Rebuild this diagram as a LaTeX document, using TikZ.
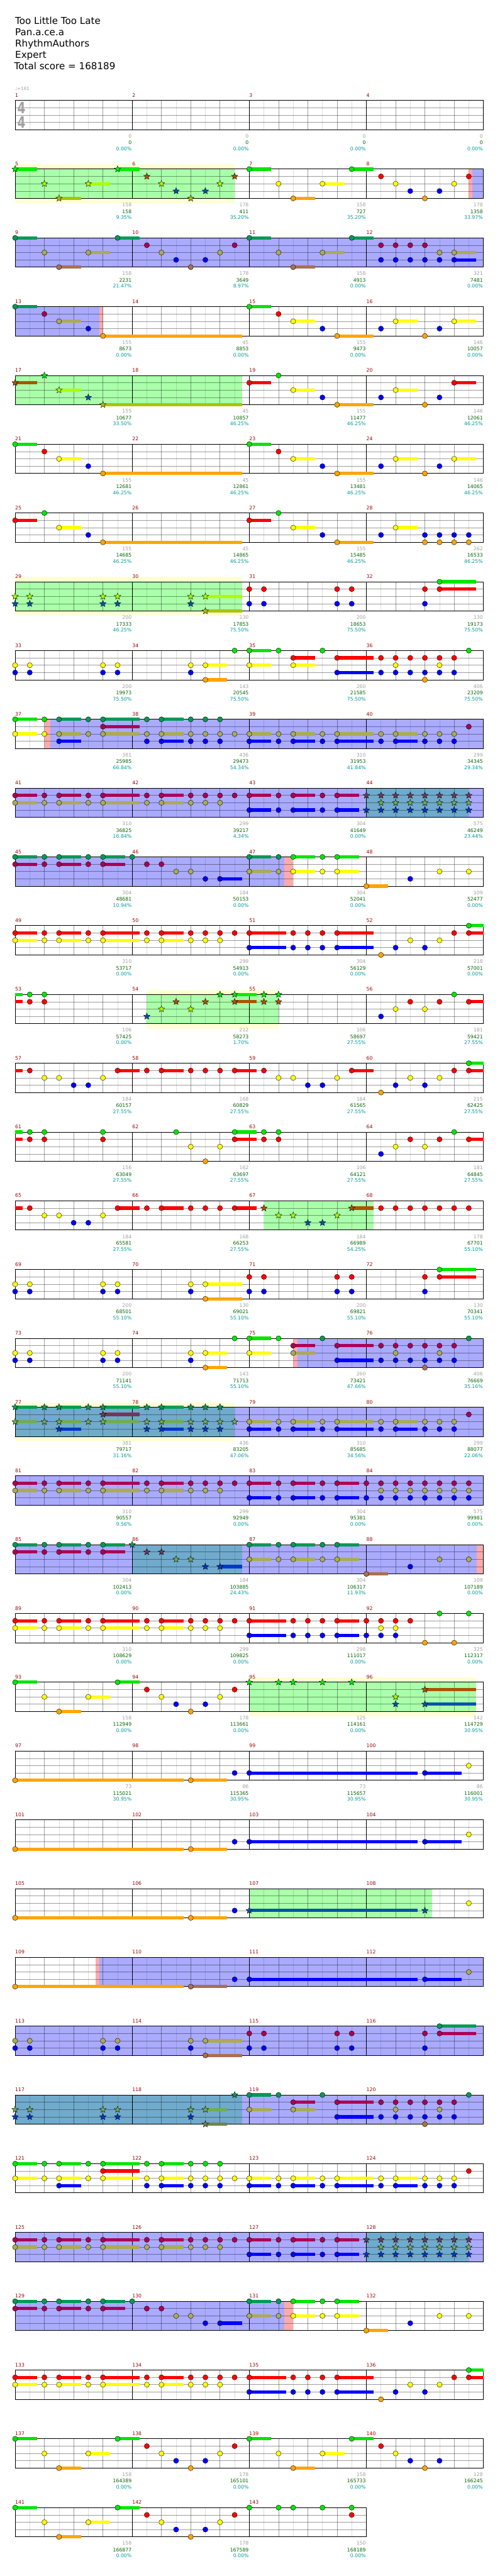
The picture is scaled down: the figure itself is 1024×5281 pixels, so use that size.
\documentclass[tikz,border=0pt]{standalone}
\usepackage{fontspec}
\setmainfont{DejaVu Sans}
\usetikzlibrary{shapes.geometric}

\definecolor{n0}{RGB}{0,230,0}
\definecolor{n1}{RGB}{255,0,0}
\definecolor{n2}{RGB}{255,255,0}
\definecolor{n3}{RGB}{0,0,255}
\definecolor{n4}{RGB}{255,165,0}
\colorlet{b0}{n0}
\colorlet{b1}{n1}
\colorlet{b2}{n2}
\colorlet{b3}{n3}
\colorlet{b4}{n4}
\colorlet{o0}{n0!67!blue}
\colorlet{o1}{n1!67!blue}
\colorlet{o2}{n2!67!blue}
\colorlet{o3}{n3!67!blue}
\colorlet{o4}{n4!67!blue}
\colorlet{s0}{n0!67!green}
\colorlet{s1}{n1!67!green}
\colorlet{s2}{n2!67!green}
\colorlet{s3}{n3!67!green}
\colorlet{s4}{n4!67!green}
\colorlet{t0}{s0!67!blue}
\colorlet{t1}{s1!67!blue}
\colorlet{t2}{s2!67!blue}
\colorlet{t3}{s3!67!blue}
\colorlet{t4}{s4!67!blue}
\definecolor{spfill}{RGB}{170,255,170}
\definecolor{bandfill}{RGB}{255,255,212}
\definecolor{odfill}{RGB}{170,170,255}
\definecolor{tealfill}{RGB}{112,170,204}
\definecolor{pinkfill}{RGB}{255,170,170}
\definecolor{barnum}{RGB}{153,0,0}
\definecolor{graynum}{RGB}{160,160,160}
\definecolor{greennum}{RGB}{0,100,0}
\definecolor{tealnum}{RGB}{0,153,153}

\newcommand\riffA{0/0/1.5, 2/2/0, 3/4/4.5, 5/2/6.5, 7/0/8.5, 9/1/0, 10/2/0, 11/3/0, 12/4/0, 13/3/0, 14/2/0, 15/1/0}
\newcommand\riffB{0/0/1.5, 2/1/0, 3/2/4.5, 5/3/0, 6/4/15.5}
\newcommand\riffC{0/0/1.5, 2/1/0, 3/2/4.5, 5/3/0, 6/4/8.5, 9/3/0, 10/2/11.5, 12/4/0, 13/3/0, 14/2/15.5}
\newcommand\riffD{0/2/0, 0/3/0, 1/2/0, 1/3/0, 6/2/0, 6/3/0, 7/2/0, 7/3/0, 12/2/0, 12/3/0}
\newcommand\riffE{16/1/0, 16/3/0, 17/1/0, 17/3/0, 22/1/0, 22/3/0, 23/1/0, 23/3/0, 28/1/0, 28/3/0, 29/0/31.5, 29/1/31.5}
\newcommand\riffF{16/2/17.5, 16/3/17.5, 18/2/0, 18/3/0, 19/2/20.5, 19/3/20.5, 21/2/0, 21/3/0, 22/2/24.5, 22/3/24.5, 25/2/0, 25/3/0, 26/2/27.5, 26/3/27.5, 28/2/0, 28/3/0, 29/2/0, 29/3/0, 30/2/0, 30/3/0, 31/1/0}
\newcommand\riffG{3/0/4.5, 3/2/4.5, 3/3/4.5, 5/0/0, 5/2/0, 6/0/8.5, 6/1/8.5, 6/2/8.5, 9/0/0, 9/2/0, 9/3/0, 10/0/11.5, 10/2/11.5, 10/3/11.5, 12/0/0, 12/2/0, 12/3/0, 13/0/0, 13/2/0, 13/3/0, 14/0/0, 14/2/0, 14/3/0, 15/2/0}
\newcommand\riffH{0/1/1.5, 0/2/1.5, 2/1/0, 2/2/0, 3/1/4.5, 3/2/4.5, 5/1/0, 5/2/0, 6/1/8.5, 6/2/8.5, 9/1/0, 9/2/0, 10/1/11.5, 10/2/11.5, 12/1/0, 12/2/0, 13/1/0, 13/2/0, 14/1/0, 14/2/0, 15/1/0}
\newcommand\riffI{16/1/17.5, 16/3/17.5, 18/1/0, 18/3/0, 19/1/20.5, 19/3/20.5, 21/1/0, 21/3/0, 22/1/23.5, 22/3/23.5}
\newcommand\riffK{1/1/0, 2/2/0, 3/2/0, 4/3/0, 5/3/0, 6/2/0, 7/1/8.5}
\newcommand\riffL{21/0/0, 22/1/24.5, 22/3/24.5, 25/1/0, 25/3/0, 26/1/0, 26/2/0, 26/3/0, 27/1/0, 27/3/0, 28/1/0, 28/3/0, 28/4/0, 29/1/0, 29/2/0, 29/3/0, 30/1/0, 30/3/0, 31/0/0}
\newcommand\riffM{24/1/0, 24/3/0, 25/1/0, 25/2/0, 25/3/0, 26/1/0, 26/2/0, 26/3/0, 27/1/0, 27/2/0, 27/3/0, 28/1/0, 28/2/0, 28/3/0, 29/1/0, 29/2/0, 29/3/0, 30/1/0, 30/2/0, 30/3/0, 31/1/0, 31/2/0, 31/3/0}
\newcommand\riffN{25/3/0, 26/2/0, 27/1/0, 28/2/0, 29/1/0, 30/0/0, 31/1/32}
\newcommand\riffO{0/0/1.5, 0/1/1.5, 2/0/0, 2/1/0, 3/0/4.5, 3/1/4.5, 5/0/0, 5/1/0, 6/0/7.5, 6/1/7.5}
\newcommand\riffP{8/0/0, 9/1/0, 10/1/0, 11/2/0, 12/2/0, 13/3/0, 14/3/15.5}
\newcommand\riffQ{19/0/20.5, 19/2/20.5, 21/0/0, 21/2/0, 22/0/23.5, 22/2/23.5, 24/4/25.5, 27/3/0, 29/2/0, 31/2/0}
\newcommand\riffR{16/1/18.5, 16/3/18.5, 19/1/0, 19/3/0, 20/1/0, 20/3/0, 21/1/0, 21/3/0, 22/1/24.5, 22/3/24.5, 25/4/0, 26/3/0, 27/2/0, 28/3/0, 29/2/0, 30/1/0, 31/0/32, 31/1/32}
\newcommand\riffS{0/4/11.5, 12/4/14.5, 15/3/0}

\newcommand\drawnote[6]{%
  \pgfmathsetmacro\nx{31+30*(#2+#3)}%
  \pgfmathsetmacro\ny{205.7+141*#1+15*#4}%
  \ifdim #5pt>0pt
    \pgfmathsetmacro\sx{31+30*(#2+#5)}%
    \draw[sustain, draw=#6#4] (\nx,\ny) -- (\sx,\ny);
  \fi
  \node[fill=#6#4, head #6] at (\nx,\ny) {};}
\newcommand\notes[4]{\edef\nlist{#4}\foreach \pos/\lane/\send in \nlist {\drawnote{#1}{#2}{\pos}{\lane}{\send}{#3}}}
\newcommand\zone[4][odzone]{\fill[#1] ({31+30*#3},{205.7+141*#2}) rectangle ({31+30*#4},{265.7+141*#2});}
\newcommand\band[3]{\fill[bandzone] ({31+30*#2},{195.7+141*#1}) rectangle ({31+30*#3},{275.7+141*#1});}
\newcommand\staff[2]{%
  \pgfmathsetmacro\ty{205.7+141*#1}%
  \pgfmathsetmacro\xr{31+30*#2}%
  \foreach \e in {1,3,...,31} {\ifnum\e<#2 \draw[eighthline] ({31+30*\e},\ty) -- ++(0,60);\fi}
  \foreach \e in {2,4,...,30} {\ifnum\e<#2 \draw[beatline] ({31+30*\e},\ty) -- ++(0,60);\fi}
  \foreach \k in {1,2,3} {\draw[beatline] (31,{\ty+15*\k}) -- (\xr,{\ty+15*\k});}
  \foreach \e in {8,16,24} {\ifnum\e<#2 \draw[barline] ({31+30*\e},\ty) -- ++(0,60);\fi}
  \draw[staffline] (31,\ty) rectangle (\xr,{\ty+60});}

\begin{document}
\begin{tikzpicture}[x=1pt, y=-1pt,
    sustain/.style={line width=6.7pt},
    note/.style={circle, draw=black, line width=0.5pt, minimum size=10.6pt, inner sep=0pt},
    starnote/.style={star, star points=5, star point ratio=2.3, draw=black, line width=0.5pt, minimum size=14pt, inner sep=0pt},
    head n/.style=note, head o/.style=note, head s/.style=starnote, head t/.style=starnote,
    head b/.style={fill=none, inner sep=0pt, minimum size=0pt},
    odzone/.style={fill=odfill}, spzone/.style={fill=spfill}, tealzone/.style={fill=tealfill},
    pinkzone/.style={fill=pinkfill}, bandzone/.style={fill=bandfill},
    eighthline/.style={draw=black, opacity=0.13, line width=0.8pt},
    beatline/.style={draw=black, opacity=0.38, line width=0.8pt},
    barline/.style={draw=black, line width=0.8pt},
    staffline/.style={draw=black, line width=1.2pt},
    title/.style={anchor=base west, inner sep=0pt, font=\fontsize{19.5}{23}\selectfont},
    numtxt/.style={anchor=base east, inner sep=0pt, font=\fontsize{10}{12}\selectfont},
    bartxt/.style={anchor=base west, inner sep=0pt, font=\fontsize{10}{12}\selectfont, text=barnum}
]
\fill[white] (0,0) rectangle (1024,5281);
\useasboundingbox (0,0) rectangle (1024,5281);

\node[title] (song) at (31,50) {Too Little Too Late};
\node[title] (artist) at (31,73) {Pan.a.ce.a};
\node[title] (charter) at (31,96) {RhythmAuthors};
\node[title] (level) at (31,119) {Expert};
\node[title] (total) at (29,142) {Total score = 168189};
\node[anchor=base west, inner sep=0pt, font=\fontsize{9}{10}\selectfont, text=graynum] (bpm) at (31,185) {♩=161};

\band{1}{0}{15} \zone[spzone]{1}{0}{15} \zone[pinkzone]{1}{31}{31.25} \zone{1}{31.25}{32}
\zone{2}{0}{32}
\zone{3}{0}{5.75} \zone[pinkzone]{3}{5.75}{6}
\zone[spzone]{4}{0}{15.5}
\band{7}{0}{15.5} \zone[spzone]{7}{0}{15.5}
\zone[pinkzone]{9}{2}{2.4} \zone{9}{2.4}{32}
\zone{10}{0}{32} \zone[tealzone]{10}{24}{31}
\zone{11}{0}{18.4} \zone[pinkzone]{11}{18.4}{19}
\band{13}{9}{18} \zone[spzone]{13}{9}{18}
\zone[spzone]{16}{17}{24.5}
\zone[pinkzone]{18}{19}{19.3} \zone{18}{19.3}{32}
\band{19}{0}{15} \zone{19}{0}{32} \zone[tealzone]{19}{0}{15}
\zone{20}{0}{32}
\zone{21}{0}{31.55} \zone[tealzone]{21}{8}{15.5} \zone[pinkzone]{21}{31.55}{32}
\band{23}{16}{31.5} \zone[spzone]{23}{16}{31.5}
\zone[spzone]{26}{16}{28.5}
\zone[pinkzone]{27}{5.5}{5.75} \zone{27}{5.75}{32}
\zone{28}{0}{32}
\zone{29}{0}{32} \zone[tealzone]{29}{0}{15.5}
\zone{31}{0}{32} \zone[tealzone]{31}{24}{31}
\zone{32}{0}{18.4} \zone[pinkzone]{32}{18.4}{19}

\foreach \rw in {0,...,34} {\staff{\rw}{32}}
\staff{35}{24}

\node[font=\fontsize{32}{32}\selectfont\bfseries, text=graynum, inner sep=0pt] (tsup) at (44,221) {\scalebox{0.75}[1]{4}};
\node[font=\fontsize{32}{32}\selectfont\bfseries, text=graynum, inner sep=0pt] (tsdown) at (44,251) {\scalebox{0.75}[1]{4}};

\foreach \ms in {1,...,143} {
  \pgfmathtruncatemacro\rw{(\ms-1)/4}
  \pgfmathsetmacro\mx{31+240*(\ms-1-4*\rw)}
  \node[bartxt] at (\mx,{198.7+141*\rw}) {\ms};
}

\foreach \ms/\gv/\sv/\pv in {1/0/0/0.00, 2/0/0/0.00, 3/0/0/0.00, 4/0/0/0.00,
    5/158/158/9.35, 6/178/411/35.20, 7/158/727/35.20, 8/178/1358/33.97,
    9/158/2231/21.47, 10/178/3649/8.97, 11/158/4913/0.00, 12/321/7481/0.00,
    13/155/8673/0.00, 14/45/8853/0.00, 15/155/9473/0.00, 16/146/10057/0.00,
    17/155/10677/33.50, 18/45/10857/46.25, 19/155/11477/46.25, 20/146/12061/46.25,
    21/155/12681/46.25, 22/45/12861/46.25, 23/155/13481/46.25, 24/146/14065/46.25,
    25/155/14685/46.25, 26/45/14865/46.25, 27/155/15485/46.25, 28/262/16533/46.25,
    29/200/17333/46.25, 30/130/17853/75.50, 31/200/18653/75.50, 32/130/19173/75.50,
    33/200/19973/75.50, 34/143/20545/75.50, 35/260/21585/75.50, 36/406/23209/75.50,
    37/381/25985/66.84, 38/436/29473/54.34, 39/310/31953/41.84, 40/299/34345/29.34,
    41/310/36825/16.84, 42/299/39217/4.34, 43/304/41649/0.00, 44/575/46249/23.44,
    45/304/48681/10.94, 46/184/50153/0.00, 47/304/52041/0.00, 48/109/52477/0.00,
    49/310/53717/0.00, 50/299/54913/0.00, 51/304/56129/0.00, 52/218/57001/0.00,
    53/106/57425/0.00, 54/212/58273/1.70, 55/106/58697/27.55, 56/181/59421/27.55,
    57/184/60157/27.55, 58/168/60829/27.55, 59/184/61565/27.55, 60/215/62425/27.55,
    61/156/63049/27.55, 62/162/63697/27.55, 63/106/64121/27.55, 64/181/64845/27.55,
    65/184/65581/27.55, 66/168/66253/27.55, 67/184/66989/54.25, 68/178/67701/55.10,
    69/200/68501/55.10, 70/130/69021/55.10, 71/200/69821/55.10, 72/130/70341/55.10,
    73/200/71141/55.10, 74/143/71713/55.10, 75/260/73421/47.66, 76/406/76669/35.16,
    77/381/79717/31.16, 78/436/83205/47.06, 79/310/85685/34.56, 80/299/88077/22.06,
    81/310/90557/9.56, 82/299/92949/0.00, 83/304/95381/0.00, 84/575/99981/0.00,
    85/304/102413/0.00, 86/184/103885/24.43, 87/304/106317/11.93, 88/109/107189/0.00,
    89/310/108629/0.00, 90/299/109825/0.00, 91/298/111017/0.00, 92/325/112317/0.00,
    93/158/112949/0.00, 94/178/113661/0.00, 95/125/114161/0.00, 96/142/114729/30.95,
    97/73/115021/30.95, 98/86/115365/30.95, 99/73/115657/30.95, 100/86/116001/30.95,
    137/158/164389/0.00, 138/178/165101/0.00, 139/158/165733/0.00, 140/128/166245/0.00,
    141/158/166877/0.00, 142/178/167589/0.00, 143/150/168189/0.00} {
  \pgfmathtruncatemacro\rw{(\ms-1)/4}
  \pgfmathsetmacro\mx{30+240*(\ms-4*\rw)}
  \pgfmathsetmacro\ty{205.7+141*\rw}
  \node[numtxt, text=graynum] at (\mx,{\ty+77}) {\gv};
  \node[numtxt, text=greennum] at (\mx,{\ty+90.4}) {\sv};
  \node[numtxt, text=tealnum] at (\mx,{\ty+102.7}) {\pv\%};
}

\notes{1}{0}{s}{\riffA}
\notes{1}{16}{n}{\riffA}
\notes{2}{0}{o}{\riffA, 16/0/17.5, 18/2/0, 19/4/20.5, 21/2/22.5, 23/0/24.5, 25/1/0, 26/1/0, 27/1/0, 28/1/0, 29/2/0, 30/2/31.5, 25/3/0, 26/3/0, 27/3/0, 28/3/0, 29/3/0, 30/3/31.5}
\notes{3}{0}{o}{0/0/1.5, 2/1/0, 3/2/4.5, 5/3/0}
\notes{3}{0}{n}{6/4/15.5}
\notes{3}{16}{n}{\riffC}
\notes{4}{0}{s}{0/1/1.5, 2/0/0, 3/2/4.5, 5/3/0, 6/4/15.5}
\notes{4}{16}{n}{0/1/1.5, 2/0/0, 3/2/4.5, 5/3/0, 6/4/8.5, 9/3/0, 10/2/11.5, 12/4/0, 13/3/0, 14/1/15.5}
\notes{5}{0}{n}{\riffB}
\notes{5}{16}{n}{\riffC}
\notes{6}{0}{n}{0/1/1.5, 2/0/0, 3/2/4.5, 5/3/0, 6/4/15.5}
\notes{6}{16}{n}{0/1/1.5, 2/0/0, 3/2/4.5, 5/3/0, 6/4/8.5, 9/3/0, 10/2/11.5, 12/3/0, 12/4/0, 13/3/0, 13/4/0, 14/3/0, 14/4/0, 15/3/0, 15/4/0}
\notes{7}{0}{s}{\riffD, 13/2/15.5, 13/4/15.5}
\notes{7}{0}{n}{\riffE}
\notes{8}{0}{n}{\riffD, 13/2/14.5, 13/4/14.5, 15/0/0, 16/0/17.5, 16/2/17.5, 18/0/0, 19/1/20.5, 19/2/20.5, \riffL}
\notes{9}{0}{n}{0/0/1.5, 0/2/1.5, 2/0/0, 2/2/0}
\notes{9}{0}{o}{\riffG, \riffF}
\notes{10}{0}{o}{\riffH, \riffI}
\notes{10}{0}{t}{\riffM}
\notes{11}{0}{o}{\riffO, \riffP, 16/0/17.5, 16/2/17.5, 18/0/0, 18/2/0}
\notes{11}{0}{n}{\riffQ}
\notes{12}{0}{n}{\riffH, \riffR}
\notes{13}{0}{b}{0/0/0.5, 0/1/0.5}
\notes{13}{0}{n}{1/0/0, 1/1/0, 2/0/0, 2/1/0, \riffN}
\notes{13}{0}{s}{9/3/0, 10/2/0, 11/1/0, 12/2/0, 13/1/0, 14/0/0, 15/0/16.5, 15/1/16.5, 17/0/0, 17/1/0, 18/0/0, 18/1/0}
\notes{14}{0}{b}{0/1/0.5}
\notes{14}{0}{n}{\riffK, 9/1/0, 10/1/11.5, 12/1/0, 13/1/0, 14/1/0, 15/1/16.5, 25/4/0, 26/3/0, 27/2/0, 28/3/0, 29/2/0, 30/1/0, 31/0/32, 31/1/32}
\notes{14}{16}{n}{\riffK}
\notes{15}{0}{b}{0/0/0.5, 0/1/0.5}
\notes{15}{0}{n}{1/0/0, 1/1/0, 2/0/0, 2/1/0, 6/0/0, 6/1/0, 11/0/0, 12/2/0, 13/4/0, 14/2/0, 15/0/16.5, 15/1/16.5, 17/0/0, 17/1/0, 18/0/0, 18/1/0, \riffN}
\notes{16}{0}{b}{0/1/0.5}
\notes{16}{0}{n}{\riffK, 9/1/0, 10/1/11.5, 12/1/0, 13/1/0, 14/1/0, 15/1/16.5, 25/1/0, 26/1/0, 27/1/0, 28/1/0, 29/1/0, 30/1/0, 31/1/0}
\notes{16}{16}{s}{\riffK}
\notes{17}{0}{n}{\riffD, 13/2/15.5, 13/4/15.5, \riffE}
\notes{18}{0}{n}{\riffD, 13/2/14.5, 13/4/14.5, 15/0/0, 16/0/17.5, 16/2/17.5, 18/0/0}
\notes{18}{0}{o}{19/1/20.5, 19/2/20.5, \riffL}
\notes{19}{0}{t}{0/0/1.5, 0/2/1.5, 2/0/0, 2/2/0, \riffG}
\notes{19}{0}{o}{\riffF}
\notes{20}{0}{o}{\riffH, \riffI, \riffM}
\notes{21}{0}{o}{\riffO, 16/0/17.5, 16/2/17.5, 18/0/0, 18/2/0, \riffQ}
\notes{21}{0}{t}{\riffP}
\notes{22}{0}{n}{\riffH, 16/1/18.5, 16/3/18.5, 19/1/0, 19/3/0, 20/1/0, 20/3/0, 21/1/0, 21/3/0, 22/1/23.5, 22/3/23.5, 24/1/0, 24/3/0, 25/1/0, 25/2/0, 25/3/0, 26/1/0, 26/2/0, 26/3/0, 27/1/0, 28/4/0, 29/0/0, 30/4/0, 31/0/0}
\notes{23}{0}{n}{\riffA}
\notes{23}{0}{s}{16/0/0, 18/0/0, 19/0/0, 21/0/0, 23/0/0, 26/2/0, 26/3/0, 28/1/31.5, 28/3/31.5}
\notes{24}{0}{n}{\riffS, 16/3/27.5, 28/3/30.5, 31/2/0}
\notes{25}{0}{n}{\riffS, 16/3/27.5, 28/3/30.5, 31/2/0}
\notes{26}{0}{n}{\riffS, 31/2/0}
\notes{26}{0}{s}{16/3/27.5, 28/3/0}
\notes{27}{0}{n}{0/4/11.5}
\notes{27}{0}{o}{12/4/14.5, 15/3/0, 16/3/27.5, 28/3/30.5, 31/2/0}
\notes{28}{0}{o}{\riffD, 13/2/15.5, 13/4/15.5, \riffE}
\notes{29}{0}{t}{\riffD, 13/2/14.5, 13/4/14.5, 15/0/0}
\notes{29}{0}{o}{16/0/17.5, 16/2/17.5, 18/0/0, 19/1/20.5, 19/2/20.5, \riffL}
\notes{30}{0}{n}{0/0/1.5, 0/2/1.5, 2/0/0, 2/2/0, \riffG, \riffF}
\notes{31}{0}{o}{\riffH, \riffI}
\notes{31}{0}{t}{\riffM}
\notes{32}{0}{o}{\riffO, \riffP, 16/0/17.5, 16/2/17.5, 18/0/0, 18/2/0}
\notes{32}{0}{n}{\riffQ}
\notes{33}{0}{n}{\riffH, \riffR}
\notes{34}{0}{n}{\riffA}
\notes{34}{16}{n}{0/0/1.5, 2/2/0, 3/4/4.5, 5/2/6.5, 7/0/8.5, 9/1/0, 10/2/0, 11/3/0, 12/4/0, 13/3/0}
\notes{35}{0}{n}{\riffA, 16/0/0, 18/0/0, 19/0/0, 21/0/0, 23/0/0, 23/1/0}
\end{tikzpicture}
\end{document}
